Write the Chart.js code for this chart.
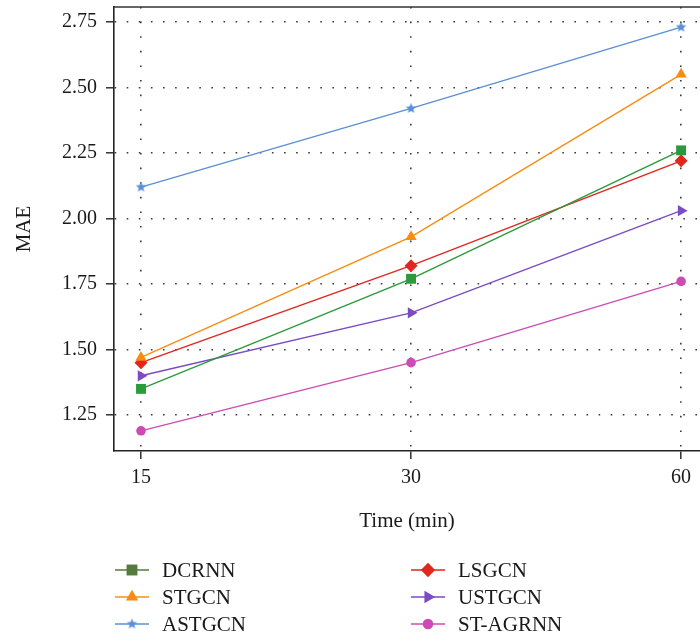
<!DOCTYPE html>
<html>
<head>
<meta charset="utf-8">
<script src="https://cdn.jsdelivr.net/npm/chart.js@4"></script>
<style>
  html, body { margin: 0; padding: 0; background: #fff; }
  #wrap { width: 700px; height: 641px; position: relative; }
</style>
</head>
<body>
<div id="wrap"><canvas id="chart"></canvas></div>
<script>
// Data
const timeLabels = ['15', '30', '60'];
const seriesNames = ['DCRNN', 'STGCN', 'ASTGCN', 'LSGCN', 'USTGCN', 'ST-AGRNN'];
const dcrnn = [1.35, 1.77, 2.26];
const stgcn = [1.47, 1.93, 2.55];
const astgcn = [2.12, 2.42, 2.73];
const lsgcn = [1.45, 1.82, 2.22];
const ustgcn = [1.40, 1.64, 2.03];
const stagrnn = [1.19, 1.45, 1.76];
const yTicks = [1.25, 1.50, 1.75, 2.00, 2.25, 2.50, 2.75];

const serif = "'Liberation Serif', 'DejaVu Serif', serif";

// small filled five point star used as a marker
function makeStar(color, r) {
    const c = document.createElement('canvas');
    const s = Math.ceil(r * 2 + 2);
    c.width = s; c.height = s;
    const g = c.getContext('2d');
    g.fillStyle = color;
    g.beginPath();
    for (let i = 0; i < 10; i++) {
        const rad = i % 2 === 0 ? r : r * 0.45;
        const a = -Math.PI / 2 + i * Math.PI / 5;
        const px = s / 2 + rad * Math.cos(a);
        const py = s / 2 + rad * Math.sin(a);
        if (i === 0) g.moveTo(px, py); else g.lineTo(px, py);
    }
    g.closePath();
    g.fill();
    return c;
}

const starIcon = makeStar('#5b8fd6', 5.5);

function series(values) {
    return values.map((v, i) => ({ x: i, y: v }));
}

const styles = [
    { color: '#2a9a3a', legendColor: '#557a3e', pointStyle: 'rect', radius: 7, rot: 0 },
    { color: '#f98c10', pointStyle: 'triangle', radius: 6.5, rot: 0 },
    { color: '#5b8fd6', pointStyle: starIcon, radius: 6, rot: 0 },
    { color: '#e0261e', pointStyle: 'rectRot', radius: 6.5, rot: 0 },
    { color: '#7a4bc4', pointStyle: 'triangle', radius: 6.5, rot: 90 },
    { color: '#cc4bb4', pointStyle: 'circle', radius: 4.8, rot: 0 }
];
const allValues = [dcrnn, stgcn, astgcn, lsgcn, ustgcn, stagrnn];

const datasets = allValues.map((vals, i) => ({
    label: seriesNames[i],
    data: series(vals),
    borderColor: styles[i].color,
    backgroundColor: styles[i].color,
    borderWidth: 1.4,
    pointStyle: styles[i].pointStyle,
    pointRadius: styles[i].radius,
    pointRotation: styles[i].rot,
    pointBorderWidth: 0,
    tension: 0
}));

// two column legend under the axis, drawn on the canvas
const legendPlugin = {
    id: 'colLegend',
    afterDraw(chart) {
        const ctx = chart.ctx;
        const cols = [115, 411];
        const rows = [570, 597, 624];
        ctx.save();
        chart.data.datasets.forEach((ds, i) => {
            const x0 = cols[Math.floor(i / 3)];
            const y = rows[i % 3];
            const st = styles[i];
            const col = st.legendColor || st.color;
            ctx.strokeStyle = col;
            ctx.lineWidth = 1.4;
            ctx.beginPath();
            ctx.moveTo(x0, y);
            ctx.lineTo(x0 + 34, y);
            ctx.stroke();
            ctx.fillStyle = col;
            ctx.strokeStyle = col;
            Chart.helpers.drawPoint(ctx, {
                pointStyle: st.pointStyle,
                radius: st.radius * 1.1,
                rotation: st.rot,
                borderWidth: 0
            }, x0 + 17, y);
            ctx.fillStyle = '#1a1a1a';
            ctx.font = '21px ' + serif;
            ctx.textBaseline = 'middle';
            ctx.textAlign = 'left';
            ctx.fillText(ds.label, x0 + 47, y + 1);
        });
        // top frame line
        const a = chart.chartArea;
        ctx.strokeStyle = '#333';
        ctx.lineWidth = 1.6;
        ctx.beginPath();
        ctx.moveTo(a.left, a.top);
        ctx.lineTo(a.right, a.top);
        ctx.stroke();
        ctx.restore();
    }
};

const gridCommon = {
    color: '#3a3a3a',
    lineWidth: 1.6,
    tickColor: '#222',
    tickLength: 8,
    tickWidth: 1.4,
    tickBorderDash: []
};

function noPad(scale) {
    scale.paddingTop = 0;
    scale.paddingBottom = 0;
    scale.paddingLeft = 0;
    scale.paddingRight = 0;
}

new Chart(document.getElementById('chart'), {
    type: 'line',
    data: { datasets: datasets },
    plugins: [legendPlugin],
    options: {
        responsive: true,
        maintainAspectRatio: false,
        animation: false,
        layout: { autoPadding: false, padding: { top: 7, right: 0, left: 0, bottom: 0 } },
        plugins: {
            legend: { display: false },
            tooltip: { enabled: false }
        },
        scales: {
            x: {
                type: 'linear',
                min: -0.1,
                max: 2.07,
                afterBuildTicks: (scale) => {
                    scale.ticks = timeLabels.map((t, i) => ({ value: i }));
                },
                afterFit: (scale) => { scale.height = 190; noPad(scale); },
                ticks: {
                    color: '#1a1a1a',
                    font: { family: serif, size: 20 },
                    padding: 7,
                    maxRotation: 0,
                    callback: (v) => timeLabels[v]
                },
                grid: gridCommon,
                border: { color: '#222', width: 1.6, dash: [1.6, 13] },
                title: {
                    display: true,
                    text: 'Time (min)',
                    color: '#1a1a1a',
                    font: { family: serif, size: 21 },
                    padding: { top: 107, bottom: 107 }
                }
            },
            y: {
                min: 1.113,
                max: 2.807,
                afterBuildTicks: (scale) => {
                    scale.ticks = yTicks.map(v => ({ value: v }));
                },
                afterFit: (scale) => { scale.width = 114; noPad(scale); },
                ticks: {
                    color: '#1a1a1a',
                    font: { family: serif, size: 20 },
                    padding: 9,
                    callback: (v) => v.toFixed(2)
                },
                grid: gridCommon,
                border: { color: '#222', width: 1.6, dash: [1.6, 10.5] },
                title: {
                    display: true,
                    text: 'MAE',
                    color: '#1a1a1a',
                    font: { family: serif, size: 21 },
                    padding: { top: 12, bottom: 12 }
                }
            }
        }
    }
});
</script>
</body>
</html>
